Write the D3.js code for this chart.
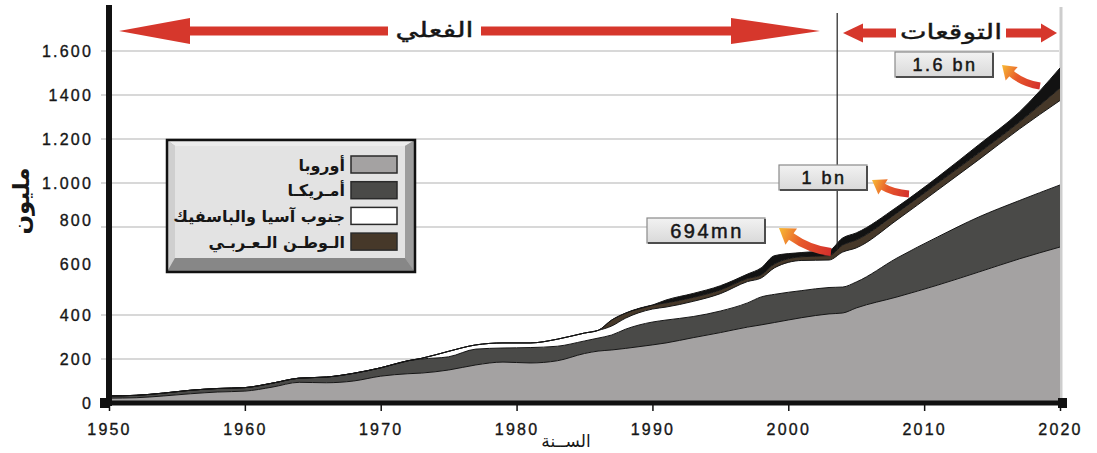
<!DOCTYPE html>
<html>
<head>
<meta charset="utf-8">
<script src="https://cdn.jsdelivr.net/npm/d3@7"></script>
<style>
    body { margin: 0; background: #fff; }
    svg text { font-family: "Liberation Sans", Arial, sans-serif; fill: #161616; }
    svg text.ar { font-family: "DejaVu Sans", sans-serif; }
</style>
</head>
<body>
<svg id="chart" width="1097" height="453"></svg>
<script>
;(function () {

    // ---- data (million arrivals) ----
    var years = [1950, 1952, 1954, 1956, 1958, 1960, 1962, 1964, 1966, 1968,
                 1970, 1972, 1973, 1975, 1977, 1979, 1981, 1983, 1985, 1986,
                 1987, 1988, 1990, 1991, 1993, 1995, 1997, 1998, 1999, 2001,
                 2003, 2004, 2005, 2008, 2011, 2014, 2017, 2020];

    var europe = [22, 24, 32, 42, 50, 54, 72, 94, 92, 100,
                  122, 133, 136, 150, 173, 186, 182, 192, 225, 236,
                  241, 248, 264, 273, 297, 320, 345, 355, 366, 388,
                  405, 409, 432, 482, 536, 595, 655, 709];

    var americas = [10, 11, 13, 16, 16, 16, 18, 19, 26, 35,
                    38, 59, 64, 60, 72, 64, 70, 66, 57, 59,
                    68, 87, 104, 104, 96, 98, 110, 127, 128, 123,
                    120, 118, 118, 177, 219, 250, 265, 282];

    var asiaPacific = [0, 0, 0, 0, 0, 0, 0, 0, 0, 0,
                       0, 0, 3, 25, 19, 23, 21, 32, 36, 35,
                       41, 50, 59, 59, 69, 79, 97, 86, 121, 137,
                       125, 159, 155, 173, 213, 260, 325, 384];

    var arabWorld = [0, 0, 0, 0, 0, 0, 0, 0, 0, 0,
                     0, 0, 0, 0, 0, 0, 0, 0, 0, 0,
                     27, 23, 18, 19, 18, 17, 14, 14, 18, 17,
                     20, 32, 36, 32, 32, 31, 32, 57];

    var otherBand = [0, 0, 0, 0, 0, 0, 0, 0, 0, 0,
                     0, 0, 0, 0, 0, 0, 0, 0, 0, 0,
                     0, 0, 0, 13, 18, 19, 20, 32, 37, 19,
                     24, 32, 32, 27, 27, 37, 45, 91];

    var seriesKeys = ['europe', 'americas', 'asiaPacific', 'arabWorld', 'other'];
    var seriesNames = ['أوروبا', 'أمـريكـا', 'جنوب آسيا والباسفيك', 'الـوطـن الـعـربـي'];
    var seriesColors = ['#a4a2a2', '#4a4a48', '#ffffff', '#463829', '#121212'];

    var yTicks = [0, 200, 400, 600, 800, 1000, 1200, 1400, 1600];
    var yTickLabels = ['0', '200', '400', '600', '800', '1.000', '1.200', '1400', '1.600'];
    var xTicks = [1950, 1960, 1970, 1980, 1990, 2000, 2010, 2020];

    var forecastStart = 2003.6;
    var callouts = ['694mn', '1 bn', '1.6 bn'];

    // ---- setup ----
    var svg = d3.select('#chart');
    var defs = svg.append('defs');

    var x = d3.scaleLinear().domain([1950, 2020]).range([109, 1060]);
    var y = d3.scaleLinear().domain([0, 1600]).range([403, 51]);

    var rows = years.map(function (yr, i) {
        return {
            year: yr,
            europe: europe[i],
            americas: americas[i],
            asiaPacific: asiaPacific[i],
            arabWorld: arabWorld[i],
            other: otherBand[i]
        };
    });

    var stacked = d3.stack().keys(seriesKeys)(rows);

    // gridlines (none at 600 in the original)
    svg.append('g')
        .selectAll('line')
        .data(yTicks.filter(function (d) { return d !== 0 && d !== 600; }))
        .enter().append('line')
        .attr('x1', 101).attr('x2', 1059)
        .attr('y1', function (d) { return y(d); })
        .attr('y2', function (d) { return y(d); })
        .attr('stroke', '#d8d8d8')
        .attr('stroke-width', 2);

    // right edge
    svg.append('line')
        .attr('x1', 1061).attr('x2', 1061).attr('y1', 7).attr('y2', 401)
        .attr('stroke', '#cdcdcd').attr('stroke-width', 3);

    // stacked areas
    var area = d3.area()
        .curve(d3.curveMonotoneX)
        .x(function (d) { return x(d.data.year); })
        .y0(function (d) { return y(d[0]); })
        .y1(function (d) { return y(d[1]); });

    var topLine = d3.line()
        .curve(d3.curveMonotoneX)
        .x(function (d) { return x(d.data.year); })
        .y(function (d) { return y(d[1]); });

    svg.append('g')
        .selectAll('path')
        .data(stacked)
        .enter().append('path')
        .attr('d', area)
        .attr('fill', function (d, i) { return seriesColors[i]; });

    svg.append('g')
        .selectAll('path')
        .data(stacked)
        .enter().append('path')
        .attr('d', topLine)
        .attr('fill', 'none')
        .attr('stroke', '#151515')
        .attr('stroke-width', 1);

    // forecast divider
    svg.append('line')
        .attr('x1', x(forecastStart)).attr('x2', x(forecastStart))
        .attr('y1', 13).attr('y2', 250)
        .attr('stroke', '#222').attr('stroke-width', 1.2);

    // ---- axes ----
    function numStyle(sel) {
        sel.style('font-size', '16px')
            .style('letter-spacing', '2.2px')
            .style('fill', '#161616')
            .style('stroke', '#161616')
            .style('stroke-width', 0.35);
    }

    var yAxis = svg.append('g')
        .attr('transform', 'translate(109,0)')
        .call(d3.axisLeft(y).tickValues(yTicks)
            .tickFormat(function (d, i) { return yTickLabels[i]; })
            .tickSize(0).tickPadding(16));
    yAxis.select('.domain').remove();
    yAxis.selectAll('text')
        .call(numStyle)
        .attr('dy', function (d) { return (d === 800 || d === 600) ? '-0.1em' : '0.32em'; });

    var xAxis = svg.append('g')
        .attr('transform', 'translate(0,403)')
        .call(d3.axisBottom(x).tickValues(xTicks).tickFormat(d3.format('d'))
            .tickSize(8).tickPadding(13));
    xAxis.select('.domain').remove();
    xAxis.selectAll('line').attr('stroke', '#111').attr('stroke-width', 1.5);
    xAxis.selectAll('text').call(numStyle);

    // thick axis lines
    svg.append('line')
        .attr('x1', 100).attr('x2', 1066).attr('y1', 403).attr('y2', 403)
        .attr('stroke', '#111').attr('stroke-width', 5);
    svg.append('line')
        .attr('x1', 109).attr('x2', 109).attr('y1', 5).attr('y2', 406)
        .attr('stroke', '#111').attr('stroke-width', 6);
    svg.append('rect').attr('x', 100).attr('y', 398).attr('width', 10).attr('height', 10).attr('fill', '#111');
    svg.append('rect').attr('x', 1058).attr('y', 398).attr('width', 9).attr('height', 10).attr('fill', '#111');

    // axis titles
    svg.append('text')
        .attr('class', 'ar')
        .attr('transform', 'translate(29,201) rotate(-90)')
        .attr('text-anchor', 'middle')
        .style('font-size', '23px')
        .style('font-weight', 'bold')
        .text('مليون');

    svg.append('text')
        .attr('class', 'ar')
        .attr('x', 566).attr('y', 447)
        .attr('text-anchor', 'middle')
        .style('font-size', '17px')
        .text('الســنة');

    // ---- red period arrows ----
    var red = '#d6372c';

    function periodArrow(cy, tipL, baseL, gapL, gapR, baseR, tipR, headHalf, shaftHalf, label, fontSize, textW) {
        var g = svg.append('g');
        g.append('path')
            .attr('d', 'M' + tipL + ',' + cy + 'L' + baseL + ',' + (cy - headHalf) + 'L' + baseL + ',' + (cy + headHalf) + 'Z')
            .attr('fill', red);
        g.append('rect')
            .attr('x', baseL - 1).attr('y', cy - shaftHalf)
            .attr('width', gapL - baseL + 1).attr('height', shaftHalf * 2)
            .attr('fill', red);
        g.append('rect')
            .attr('x', gapR).attr('y', cy - shaftHalf)
            .attr('width', baseR - gapR + 1).attr('height', shaftHalf * 2)
            .attr('fill', red);
        g.append('path')
            .attr('d', 'M' + tipR + ',' + cy + 'L' + baseR + ',' + (cy - headHalf) + 'L' + baseR + ',' + (cy + headHalf) + 'Z')
            .attr('fill', red);
        g.append('text')
            .attr('class', 'ar')
            .attr('x', (gapL + gapR) / 2).attr('y', cy + 6)
            .attr('text-anchor', 'middle')
            .attr('textLength', textW)
            .attr('lengthAdjust', 'spacingAndGlyphs')
            .style('font-size', fontSize + 'px')
            .style('stroke', '#161616').style('stroke-width', 0.4)
            .text(label);
    }

    periodArrow(31, 119, 190, 388, 481, 731, 820, 13, 4.5, 'الفعلي', 21, 78);
    periodArrow(33, 843, 863, 896, 1006, 1041, 1057, 9.5, 4.5, 'التوقعات', 21, 102);

    // ---- callout boxes ----
    var boxGrad = defs.append('linearGradient')
        .attr('id', 'boxGrad').attr('x1', 0).attr('x2', 0).attr('y1', 0).attr('y2', 1);
    boxGrad.append('stop').attr('offset', '0%').attr('stop-color', '#f2f2f2');
    boxGrad.append('stop').attr('offset', '100%').attr('stop-color', '#d9d9d9');

    function calloutBox(bx, by, bw, bh, label, fontSize) {
        var g = svg.append('g');
        g.append('rect')
            .attr('x', bx).attr('y', by).attr('width', bw).attr('height', bh)
            .attr('fill', 'url(#boxGrad)')
            .attr('stroke', '#8a8a8a').attr('stroke-width', 1.2);
        g.append('path')
            .attr('d', 'M' + (bx + 1) + ',' + (by + bh) + 'H' + (bx + bw) + 'V' + (by + 1))
            .attr('fill', 'none').attr('stroke', '#4d4d4d').attr('stroke-width', 2);
        g.append('text')
            .attr('x', bx + bw / 2 + 1).attr('y', by + bh / 2)
            .attr('dy', '0.36em')
            .attr('text-anchor', 'middle')
            .style('font-size', fontSize + 'px')
            .style('letter-spacing', '2.5px')
            .style('stroke', '#161616').style('stroke-width', 0.5)
            .text(label);
    }

    calloutBox(647, 218, 118, 25, callouts[0], 20);
    calloutBox(779, 165, 88, 25, callouts[1], 18);
    calloutBox(895, 52, 98, 25, callouts[2], 18);

    // ---- curved orange arrows ----
    function curvedArrow(id, tail, ctrl, tip, headLen, headHalf, width) {
        var g = defs.append('linearGradient')
            .attr('id', id).attr('gradientUnits', 'userSpaceOnUse')
            .attr('x1', tail[0]).attr('y1', tail[1]).attr('x2', tip[0]).attr('y2', tip[1]);
        g.append('stop').attr('offset', '0%').attr('stop-color', '#d4302c');
        g.append('stop').attr('offset', '55%').attr('stop-color', '#e7582b');
        g.append('stop').attr('offset', '100%').attr('stop-color', '#f8bb35');

        var dx = tip[0] - ctrl[0], dy = tip[1] - ctrl[1];
        var len = Math.sqrt(dx * dx + dy * dy);
        var ux = dx / len, uy = dy / len;
        var base = [tip[0] - ux * headLen, tip[1] - uy * headLen];
        var px = -uy, py = ux;

        svg.append('path')
            .attr('d', 'M' + tail[0] + ',' + tail[1] + 'Q' + ctrl[0] + ',' + ctrl[1] + ' ' + (base[0] + ux) + ',' + (base[1] + uy))
            .attr('fill', 'none')
            .attr('stroke', 'url(#' + id + ')')
            .attr('stroke-width', width);
        svg.append('path')
            .attr('d', 'M' + tip[0] + ',' + tip[1] +
                'L' + (base[0] + px * headHalf) + ',' + (base[1] + py * headHalf) +
                'L' + (base[0] - px * headHalf) + ',' + (base[1] - py * headHalf) + 'Z')
            .attr('fill', 'url(#' + id + ')');
    }

    curvedArrow('arr1', [831, 252], [810, 250], [779, 228], 15, 10, 8);
    curvedArrow('arr2', [909, 194], [893, 193], [872, 180], 13, 9, 7);
    curvedArrow('arr3', [1040, 86], [1022, 83], [1002, 65], 13, 9, 7);

    // ---- legend ----
    var lg = svg.append('g');
    var L = { x0: 167, y0: 140, x1: 415, y1: 272, ix0: 175, iy0: 146, ix1: 405, iy1: 258 };

    lg.append('rect')
        .attr('x', L.x0).attr('y', L.y0).attr('width', L.x1 - L.x0).attr('height', L.y1 - L.y0)
        .attr('fill', '#b4b4b4');
    // bevel faces
    lg.append('path')
        .attr('d', 'M' + L.x0 + ',' + L.y0 + 'L' + L.x1 + ',' + L.y0 + 'L' + L.ix1 + ',' + L.iy0 + 'L' + L.ix0 + ',' + L.iy0 + 'Z')
        .attr('fill', '#ececec');
    lg.append('path')
        .attr('d', 'M' + L.x0 + ',' + L.y0 + 'L' + L.ix0 + ',' + L.iy0 + 'L' + L.ix0 + ',' + L.iy1 + 'L' + L.x0 + ',' + L.y1 + 'Z')
        .attr('fill', '#cfcfcf');
    lg.append('path')
        .attr('d', 'M' + L.x1 + ',' + L.y0 + 'L' + L.x1 + ',' + L.y1 + 'L' + L.ix1 + ',' + L.iy1 + 'L' + L.ix1 + ',' + L.iy0 + 'Z')
        .attr('fill', '#9d9d9d');
    lg.append('path')
        .attr('d', 'M' + L.x0 + ',' + L.y1 + 'L' + L.ix0 + ',' + L.iy1 + 'L' + L.ix1 + ',' + L.iy1 + 'L' + L.x1 + ',' + L.y1 + 'Z')
        .attr('fill', '#878787');
    lg.append('rect')
        .attr('x', L.ix0).attr('y', L.iy0).attr('width', L.ix1 - L.ix0).attr('height', L.iy1 - L.iy0)
        .attr('fill', '#e3e3e3');
    lg.append('rect')
        .attr('x', L.x0).attr('y', L.y0).attr('width', L.x1 - L.x0).attr('height', L.y1 - L.y0)
        .attr('fill', 'none').attr('stroke', '#111').attr('stroke-width', 2.5);

    var legendRows = lg.selectAll('g.item')
        .data(seriesNames)
        .enter().append('g')
        .attr('class', 'item')
        .attr('transform', function (d, i) { return 'translate(0,' + (156 + i * 25.7) + ')'; });

    legendRows.append('rect')
        .attr('x', 351).attr('y', 0).attr('width', 46).attr('height', 17)
        .attr('fill', function (d, i) { return seriesColors[i]; })
        .attr('stroke', '#2a2a2a').attr('stroke-width', 1.5);

    legendRows.append('text')
        .attr('class', 'ar')
        .attr('x', 345).attr('y', 9).attr('dy', '0.35em')
        .attr('text-anchor', 'end')
        .style('font-size', '16px')
        .style('font-weight', 'bold')
        .text(function (d) { return d; });

}());
</script>
</body>
</html>
